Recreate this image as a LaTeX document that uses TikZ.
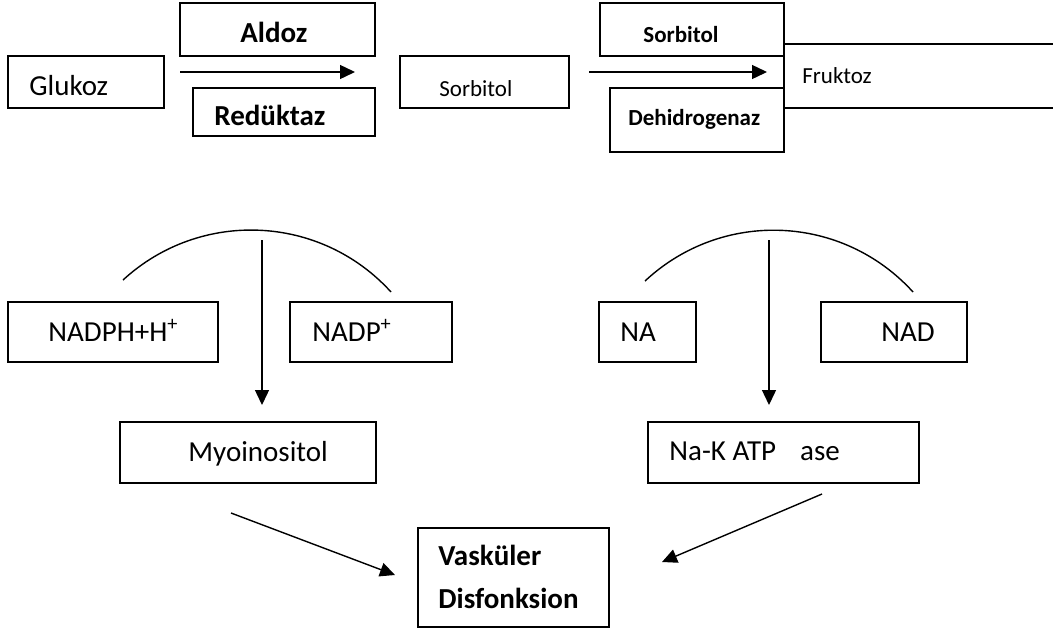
\documentclass[tikz,border=0pt]{standalone}
\usepackage{fontspec}
\setmainfont{Carlito}
\usetikzlibrary{arrows.meta}
\begin{document}
\begin{tikzpicture}[x=0.5pt,y=-0.5pt,
  box/.style={draw,line width=0.7pt,inner sep=0pt,outer sep=0pt},
  lbl/.style={anchor=base west,inner sep=0pt,font=\fontsize{14.5}{17}\selectfont},
  slbl/.style={anchor=base west,inner sep=0pt,font=\fontsize{11.5}{14}\selectfont},
  ln/.style={line width=0.7pt},
  arr/.style={line width=0.7pt,-{Triangle[length=7.5pt,width=7pt]}}]
\clip (0,0) rectangle (1053,632);
\fill[white] (0,0) rectangle (1053,632);
% top row boxes
\node[box,minimum width=78pt,minimum height=26pt] (glu) at (86,82) {};
\node[box,minimum width=97.5pt,minimum height=26.5pt] (ald) at (277.5,29.5) {};
\node[box,minimum width=91pt,minimum height=24pt] (red) at (284,112) {};
\node[box,minimum width=84.5pt,minimum height=26pt] (sor) at (484.5,82) {};
\node[box,minimum width=148pt,minimum height=32pt] (fru) at (932,76) {};
\node[box,fill=white,minimum width=92pt,minimum height=26.5pt] (sde) at (692,29.5) {};
\node[box,fill=white,minimum width=87pt,minimum height=32pt] (deh) at (697,120) {};
% top labels
\node[lbl] (tglu) at (29,95) {Glukoz};
\node[lbl] (tald) at (240,42) {\bfseries Aldoz};
\node[lbl] (tred) at (214,125) {\bfseries Redüktaz};
\node[slbl] (tsor) at (439,96) {Sorbitol};
\node[slbl] (tsde) at (643,42) {\bfseries Sorbitol};
\node[slbl] (tdeh) at (628,125) {\bfseries Dehidrogenaz};
\node[slbl] (tfru) at (802,83) {Fruktoz};
% top arrows
\coordinate (a1s) at (180,72); \coordinate (a1e) at (355,72);
\coordinate (a2s) at (589,72); \coordinate (a2e) at (767,72);
\draw[arr] (a1s) -- (a1e);
\draw[arr] (a2s) -- (a2e);
% middle boxes
\node[box,minimum width=105pt,minimum height=30pt] (nadph) at (113,332) {};
\node[box,minimum width=81pt,minimum height=30pt] (nadp) at (371,332) {};
\node[box,minimum width=48.5pt,minimum height=30pt] (na) at (647.5,332) {};
\node[box,minimum width=73pt,minimum height=30pt] (nad) at (894,332) {};
\node[lbl] (tnadph) at (48,341) {NADPH+H\textsuperscript{+}};
\node[lbl] (tnadp) at (312,341) {NADP\textsuperscript{+}};
\node[lbl] (tna) at (620,341) {NA};
\node[lbl] (tnad) at (881,341) {NAD};
% arcs
\coordinate (l1) at (123,280); \coordinate (l2) at (391,292);
\coordinate (r1) at (645,281); \coordinate (r2) at (913,292);
\draw[ln] (l1) .. controls (200.2,209) and (320.5,214.3) .. (l2);
\draw[ln] (r1) .. controls (722.2,209) and (842.5,214.3) .. (r2);
% lower boxes
\node[box,minimum width=128pt,minimum height=30.5pt] (myo) at (248,452.5) {};
\node[box,minimum width=135.5pt,minimum height=30.5pt] (nak) at (783.5,452.5) {};
\node[box,minimum width=95.5pt,minimum height=49.5pt] (vas) at (513.5,577.5) {};
\node[lbl] (tmyo) at (188,461) {Myoinositol};
\node[lbl] (tnak) at (669,460) {Na-K ATP\hspace{12pt}ase};
\node[lbl] (tvas1) at (438,565) {\bfseries Vasküler};
\node[lbl] (tvas2) at (438,608) {\bfseries Disfonksion};
% vertical arrows
\coordinate (v1) at (262,240); \coordinate (v1e) at (262,405);
\coordinate (v2) at (769,240); \coordinate (v2e) at (769,405);
\draw[arr] (v1) -- (v1e);
\draw[arr] (v2) -- (v2e);
% diagonal arrows
\coordinate (d1) at (231,513); \coordinate (d1e) at (395,575);
\coordinate (d2) at (822,494); \coordinate (d2e) at (662,562);
\draw[arr] (d1) -- (d1e);
\draw[arr] (d2) -- (d2e);
\end{tikzpicture}
\end{document}
